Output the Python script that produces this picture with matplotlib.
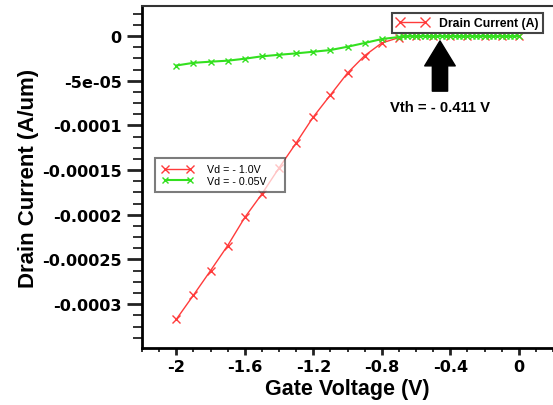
import matplotlib
matplotlib.use('Agg')
import matplotlib.pyplot as plt
from matplotlib.lines import Line2D
from matplotlib.ticker import MultipleLocator, FixedLocator, FixedFormatter

# tick numbers use a wide bold face, everything else an Arial-like one
plt.rcParams['font.family'] = ['DejaVu Sans']
plt.rcParams['font.weight'] = 'bold'
ARIAL = 'Liberation Sans'

# Vd = -1.0 V sweep
vg_red = [-2.0, -1.9, -1.8, -1.7, -1.6, -1.5, -1.4, -1.3, -1.2, -1.1, -1.0,
          -0.9, -0.8, -0.7, -0.6, -0.5, -0.4, -0.3, -0.2, -0.1, 0.0]
id_red = [-3.17e-4, -2.90e-4, -2.625e-4, -2.345e-4, -2.03e-4, -1.767e-4,
          -1.476e-4, -1.197e-4, -9.06e-5, -6.6e-5, -4.14e-5, -2.2e-5,
          -7.8e-6, -1.8e-6, 0, 0, 0, 0, 0, 0, 0]

# Vd = -0.05 V sweep (finer steps once the curve is flat)
vg_green = [-2.0, -1.9, -1.8, -1.7, -1.6, -1.5, -1.4, -1.3, -1.2, -1.1, -1.0,
            -0.9, -0.8, -0.7, -0.675, -0.65, -0.625, -0.6, -0.575, -0.55,
            -0.525, -0.5, -0.475, -0.45, -0.425, -0.4, -0.375, -0.35, -0.325,
            -0.3, -0.275, -0.25, -0.225, -0.2, -0.175, -0.15, -0.125, -0.1,
            -0.075, -0.05, -0.025, 0.0]
id_green = [-3.3e-5, -3.0e-5, -2.87e-5, -2.76e-5, -2.54e-5, -2.27e-5, -2.1e-5,
            -1.94e-5, -1.76e-5, -1.57e-5, -1.2e-5, -7.8e-6, -3.4e-6, -1.1e-6,
            0, 0, 0, 0, 0, 0, 0, 0, 0, 0, 0, 0, 0, 0, 0, 0, 0, 0, 0, 0, 0, 0,
            0, 0, 0, 0, 0, 0]

y_ticks = [0, -5e-5, -1e-4, -1.5e-4, -2e-4, -2.5e-4, -3e-4]
y_labels = ['0', '-5e-05', '-0.0001', '-0.00015', '-0.0002', '-0.00025', '-0.0003']
x_ticks = [-2, -1.6, -1.2, -0.8, -0.4, 0]
x_labels = ['-2', '-1.6', '-1.2', '-0.8', '-0.4', '0']

red = '#ff3b3b'
green = '#33e01f'

fig = plt.figure(figsize=(5.53, 4.06), dpi=100)
ax = fig.add_axes([0.2568, 0.1404, 0.7432, 0.8424])

l_red, = ax.plot(vg_red, id_red, color=red, lw=1.0, marker='x', ms=6, mew=1.0, zorder=3)
l_green, = ax.plot(vg_green, id_green, color=green, lw=1.5, marker='x', ms=4, mew=1.0, zorder=4)

ax.set_xlim(-2.2, 0.2)
ax.set_ylim(-3.49e-4, 3.36e-5)

ax.xaxis.set_major_locator(FixedLocator(x_ticks))
ax.xaxis.set_major_formatter(FixedFormatter(x_labels))
ax.xaxis.set_minor_locator(MultipleLocator(0.1))
ax.yaxis.set_major_locator(FixedLocator(y_ticks))
ax.yaxis.set_major_formatter(FixedFormatter(y_labels))
ax.yaxis.set_minor_locator(MultipleLocator(1.25e-5))

ax.tick_params(which='both', direction='out', color='#222222', labelsize=11.6)
ax.tick_params(axis='y', which='major', length=11, width=2, pad=3.5)
ax.tick_params(axis='y', which='minor', length=6.5, width=1.3)
ax.tick_params(axis='x', which='major', length=5, width=2, pad=3)
ax.tick_params(axis='x', which='minor', length=3, width=1.3)

ax.spines['right'].set_visible(False)
ax.spines['left'].set_linewidth(2)
ax.spines['bottom'].set_linewidth(2)
ax.spines['top'].set_linewidth(1.5)
ax.spines['top'].set_color('#333333')

ax.set_xlabel('Gate Voltage (V)', family=ARIAL, fontsize=15.5, fontweight='bold', labelpad=3)
ax.set_ylabel('Drain Current (A/um)', family=ARIAL, fontsize=16, fontweight='bold', labelpad=2.5)

# series legend
leg2 = ax.legend([l_red, l_green], ['Vd = - 1.0V', 'Vd = - 0.05V'],
                 loc='upper left', bbox_to_anchor=(0.0316, 0.40, 0.316, 0.1556),
                 mode='expand', borderaxespad=0,
                 prop={'family': ARIAL, 'size': 7.7, 'weight': 'normal'},
                 fancybox=False, framealpha=0.7, edgecolor='#444444',
                 handlelength=3.0, handletextpad=1.3, numpoints=2, borderpad=0.6,
                 labelspacing=0.15)
leg2.get_frame().set_linewidth(1.5)
ax.add_artist(leg2)

# quantity legend
proxy = Line2D([], [], color=red, lw=1.0, marker='x', ms=7, mew=1.0)
leg1 = ax.legend([proxy], ['Drain Current (A)'], loc='upper right',
                 bbox_to_anchor=(0.976, 0.980), borderaxespad=0,
                 prop={'family': ARIAL, 'size': 8.8, 'weight': 'bold'},
                 fancybox=False, framealpha=1,
                 edgecolor='#444444', handlelength=2.6, handletextpad=0.9,
                 numpoints=2, borderpad=0.35)
leg1.get_frame().set_linewidth(1.5)

# threshold annotation
ax.annotate('', xy=(0.725, 0.898), xytext=(0.725, 0.751), xycoords='axes fraction',
            arrowprops=dict(arrowstyle='simple,head_length=0.9,head_width=1.1,tail_width=0.55',
                            mutation_scale=20, fc='black', ec='black',
                            shrinkA=0, shrinkB=0))
ax.text(0.7256, 0.706, 'Vth = - 0.411 V', transform=ax.transAxes, ha='center', va='center',
        family=ARIAL, fontsize=10.7, fontweight='bold')

fig.savefig('out.png', dpi=100)
